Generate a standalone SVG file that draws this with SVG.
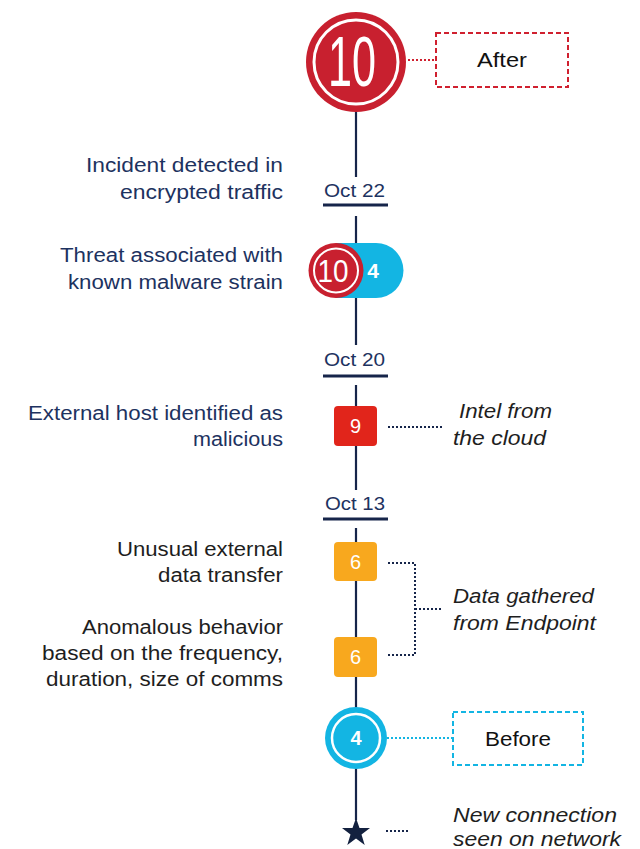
<svg xmlns="http://www.w3.org/2000/svg" width="640" height="849" viewBox="0 0 640 849">
<style>
.lbl{font-family:"Liberation Sans",Arial,sans-serif;font-size:20px;fill:#1d3260}
.lbl2{font-family:"Liberation Sans",Arial,sans-serif;font-size:20px;fill:#1e1e1e}
.note{font-family:"Liberation Sans",Arial,sans-serif;font-size:20px;font-style:italic;fill:#1e1e1e}
.date{font-family:"Liberation Sans",Arial,sans-serif;font-size:18px;fill:#1d3260}
.num{font-family:"Liberation Sans",Arial,sans-serif;fill:#fff;text-anchor:middle}
.tl{stroke:#16254a;stroke-width:2.2;fill:none}
.bar{stroke:#16254a;stroke-width:3}
.dot{stroke:#16254a;stroke-width:2;stroke-dasharray:2 2;fill:none}
.box{font-family:"Liberation Sans",Arial,sans-serif;font-size:21px;fill:#111}
</style>
<rect width="640" height="849" fill="#fff"/>
<g id="connectors">
<line class="tl" x1="356" y1="110" x2="356" y2="177"/>
<line class="bar" x1="323" y1="205" x2="388" y2="205"/>
<line class="tl" x1="356" y1="216" x2="356" y2="345"/>
<line class="bar" x1="323" y1="376" x2="388" y2="376"/>
<line class="tl" x1="356" y1="385" x2="356" y2="490"/>
<line class="bar" x1="323" y1="519" x2="388" y2="519"/>
<line class="tl" x1="356" y1="528" x2="356" y2="820"/>
<line x1="408" y1="60" x2="436" y2="60" stroke="#d0202f" stroke-width="2" stroke-dasharray="2 2"/>
<line class="dot" x1="388" y1="427" x2="442" y2="427"/>
<path class="dot" d="M388 563 H415 V655 H388 M415 609 H442"/>
<line x1="387" y1="738" x2="452" y2="738" stroke="#13b5e3" stroke-width="2" stroke-dasharray="2 2"/>
<line class="dot" x1="386" y1="831" x2="408" y2="831"/>
</g>
<g id="after-node">
<circle cx="356" cy="62" r="50" fill="#c8202f"/>
<circle cx="356" cy="62" r="42" fill="none" stroke="#fff" stroke-width="3"/>
<text class="num" x="352" y="86" font-size="70" textLength="48" lengthAdjust="spacingAndGlyphs">10</text>
</g>
<g id="after-label">
<rect x="436" y="33" width="132" height="54" fill="#fff" stroke="#d0202f" stroke-width="2" stroke-dasharray="5 3"/>
<text class="box" x="477" y="67" textLength="50" lengthAdjust="spacingAndGlyphs">After</text>
</g>
<g id="oct22">
<text class="date" x="324" y="197" textLength="61" lengthAdjust="spacingAndGlyphs">Oct 22</text>
</g>
<g id="incident">
<text class="lbl" x="86" y="172" textLength="197" lengthAdjust="spacingAndGlyphs">Incident detected in</text>
<text class="lbl" x="120" y="199" textLength="163" lengthAdjust="spacingAndGlyphs">encrypted traffic</text>
</g>
<g id="threat-node">
<path d="M336 243 H376 A27.5 27.5 0 0 1 376 298 H336 Z" fill="#13b5e3"/>
<text class="num" x="373" y="278" font-size="21" font-weight="bold">4</text>
<circle cx="336" cy="270.5" r="27.5" fill="#c8202f"/>
<circle cx="336" cy="270.5" r="22" fill="none" stroke="#fff" stroke-width="2"/>
<text class="num" x="333" y="282" font-size="31" textLength="31" lengthAdjust="spacingAndGlyphs">10</text>
</g>
<g id="threat">
<text class="lbl" x="60" y="262" textLength="223" lengthAdjust="spacingAndGlyphs">Threat associated with</text>
<text class="lbl" x="68" y="289" textLength="215" lengthAdjust="spacingAndGlyphs">known malware strain</text>
</g>
<g id="oct20">
<text class="date" x="324" y="366" textLength="61" lengthAdjust="spacingAndGlyphs">Oct 20</text>
</g>
<g id="host-node">
<rect x="334" y="406" width="43" height="40" rx="4" fill="#e1251b"/>
<text class="num" x="355.5" y="433" font-size="20">9</text>
</g>
<g id="host">
<text class="lbl" x="28" y="420" textLength="255" lengthAdjust="spacingAndGlyphs">External host identified as</text>
<text class="lbl" x="193" y="446" textLength="90" lengthAdjust="spacingAndGlyphs">malicious</text>
</g>
<g id="intel">
<text class="note" x="459" y="418" textLength="93" lengthAdjust="spacingAndGlyphs">Intel from</text>
<text class="note" x="453" y="445" textLength="93" lengthAdjust="spacingAndGlyphs">the cloud</text>
</g>
<g id="oct13">
<text class="date" x="325" y="510" textLength="60" lengthAdjust="spacingAndGlyphs">Oct 13</text>
</g>
<g id="transfer-node">
<rect x="334" y="542" width="43" height="39" rx="4" fill="#f8a81e"/>
<text class="num" x="355.5" y="569" font-size="20">6</text>
</g>
<g id="transfer">
<text class="lbl2" x="117" y="556" textLength="166" lengthAdjust="spacingAndGlyphs">Unusual external</text>
<text class="lbl2" x="158" y="582" textLength="125" lengthAdjust="spacingAndGlyphs">data transfer</text>
</g>
<g id="anomalous-node">
<rect x="334" y="637" width="43" height="40" rx="4" fill="#f8a81e"/>
<text class="num" x="355.5" y="664" font-size="20">6</text>
</g>
<g id="anomalous">
<text class="lbl2" x="82" y="634" textLength="201" lengthAdjust="spacingAndGlyphs">Anomalous behavior</text>
<text class="lbl2" x="42" y="660" textLength="241" lengthAdjust="spacingAndGlyphs">based on the frequency,</text>
<text class="lbl2" x="46" y="686" textLength="237" lengthAdjust="spacingAndGlyphs">duration, size of comms</text>
</g>
<g id="endpoint">
<text class="note" x="453" y="603" textLength="141" lengthAdjust="spacingAndGlyphs">Data gathered</text>
<text class="note" x="453" y="630" textLength="143" lengthAdjust="spacingAndGlyphs">from Endpoint</text>
</g>
<g id="before-node">
<circle cx="356" cy="738" r="31" fill="#13b5e3"/>
<circle cx="356" cy="738" r="24" fill="none" stroke="#fff" stroke-width="2.5"/>
<text class="num" x="356" y="745" font-size="20" font-weight="bold">4</text>
</g>
<g id="before-label">
<rect x="453" y="712" width="130" height="53" fill="#fff" stroke="#13b5e3" stroke-width="2" stroke-dasharray="5 3"/>
<text class="box" x="485" y="746" textLength="66" lengthAdjust="spacingAndGlyphs">Before</text>
</g>
<g id="start-node">
<polygon points="356,818 359.5,828 370,828 361.5,834.5 364.7,845 356,838.5 347.3,845 350.5,834.5 342,828 352.5,828" fill="#13213f"/>
</g>
<g id="new-connection">
<text class="note" x="453" y="822" textLength="164" lengthAdjust="spacingAndGlyphs">New connection</text>
<text class="note" x="453" y="846" textLength="168" lengthAdjust="spacingAndGlyphs">seen on network</text>
</g>
</svg>
